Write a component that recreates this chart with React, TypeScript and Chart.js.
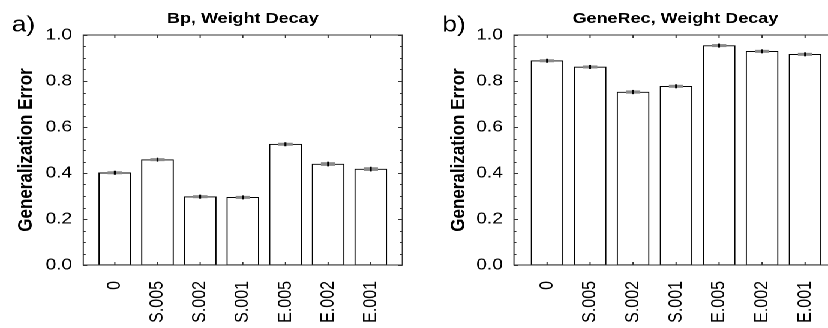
import React, { useEffect, useRef } from "react";
import { Chart, registerables } from "chart.js";

Chart.register(...registerables);

// ---- data ----
const categories = ["0", "S.005", "S.002", "S.001", "E.005", "E.002", "E.001"];
const bpValues = [0.401, 0.458, 0.297, 0.294, 0.525, 0.439, 0.417];
const bpErrors = [0.006, 0.004, 0.004, 0.004, 0.006, 0.008, 0.008];
const geneRecValues = [0.888, 0.861, 0.752, 0.777, 0.954, 0.929, 0.916];
const geneRecErrors = [0.005, 0.004, 0.007, 0.006, 0.003, 0.004, 0.006];
const yMin = 0;
const yMax = 1;
const yStep = 0.2;
const yMinorStep = 0.05;

const FONT = "'Liberation Sans', Arial, Helvetica, sans-serif";
const SX = 1.2; // horizontal stretch of the whole figure

type PanelCfg = {
  title: string;
  letter: string;
  values: number[];
  errors: number[];
  left: number;
  width: number;
  yAxisWidth: number;
  padRight: number;
  xMin: number;
  xMax: number;
  yTitlePad: number;
  letterX: number;
};

const panels: PanelCfg[] = [
  {
    title: "Bp, Weight Decay",
    letter: "a)",
    values: bpValues,
    errors: bpErrors,
    left: 0,
    width: 345,
    yAxisWidth: 69.4,
    padRight: 8.3,
    xMin: -0.74,
    xMax: 6.74,
    yTitlePad: 11.5,
    letterX: 9.75,
  },
  {
    title: "GeneRec, Weight Decay",
    letter: "b)",
    values: geneRecValues,
    errors: geneRecErrors,
    left: 345,
    width: 370,
    yAxisWidth: 83.3,
    padRight: 17.6,
    xMin: -0.77,
    xMax: 6.74,
    yTitlePad: 27,
    letterX: 23.6,
  },
];

function makePlugin(cfg: PanelCfg) {
  return {
    id: "decor",
    afterDatasetsDraw(chart: any) {
      const ctx = chart.ctx as CanvasRenderingContext2D;
      const area = chart.chartArea;
      const xs = chart.scales.x;
      const ys = chart.scales.y;
      ctx.save();
      // error bars
      cfg.values.forEach((v, i) => {
        const e = cfg.errors[i];
        const x = xs.getPixelForValue(i);
        let yt = ys.getPixelForValue(v + e);
        let yb = ys.getPixelForValue(v - e);
        if (yb - yt < 3) {
          const m = (yt + yb) / 2;
          yt = m - 1.5;
          yb = m + 1.5;
        }
        ctx.fillStyle = "#8a8a8a";
        ctx.fillRect(x - 6, yt, 12, yb - yt);
        ctx.fillStyle = "#000";
        ctx.fillRect(x - 0.8, yt - 0.5, 1.6, yb - yt + 1);
      });
      // frame
      ctx.strokeStyle = "#333";
      ctx.lineWidth = 1;
      ctx.strokeRect(area.left, area.top, area.right - area.left, area.bottom - area.top);
      // y minor / major ticks on left and right
      ctx.beginPath();
      const n = Math.round((yMax - yMin) / yMinorStep);
      for (let k = 0; k <= n; k++) {
        const val = yMin + k * yMinorStep;
        const y = Math.round(ys.getPixelForValue(val)) + 0.5;
        const major = k % Math.round(yStep / yMinorStep) === 0;
        const len = major ? 3.3 : 2;
        ctx.moveTo(area.left, y);
        ctx.lineTo(area.left + len, y);
        ctx.moveTo(area.right, y);
        ctx.lineTo(area.right - len, y);
      }
      // x ticks top and bottom
      categories.forEach((_, i) => {
        const x = xs.getPixelForValue(i);
        ctx.moveTo(x, area.top);
        ctx.lineTo(x, area.top + 3);
        ctx.moveTo(x, area.bottom);
        ctx.lineTo(x, area.bottom - 3);
      });
      ctx.stroke();
      // title
      ctx.fillStyle = "#000";
      ctx.font = `bold 15px ${FONT}`;
      ctx.textAlign = "center";
      ctx.textBaseline = "alphabetic";
      ctx.fillText(cfg.title, (area.left + area.right) / 2, 23);
      // panel letter
      ctx.font = `22px ${FONT}`;
      ctx.textAlign = "left";
      ctx.fillText(cfg.letter, cfg.letterX, 31.7);
      ctx.restore();
    },
  };
}

function Panel({ cfg }: { cfg: PanelCfg }) {
  const ref = useRef<HTMLCanvasElement>(null);
  useEffect(() => {
    const chart = new Chart(ref.current as HTMLCanvasElement, {
      type: "bar",
      data: {
        datasets: [
          {
            data: cfg.values.map((v, i) => ({ x: i, y: v })),
            backgroundColor: "#ffffff",
            borderColor: "#000000",
            borderWidth: 1,
            borderSkipped: false,
            barThickness: 32 / SX,
          } as any,
        ],
      },
      options: {
        animation: false,
        responsive: false,
        devicePixelRatio: 2,
        layout: { padding: { top: 35, right: cfg.padRight, left: 0, bottom: 0 } },
        plugins: { legend: { display: false }, tooltip: { enabled: false } },
        scales: {
          x: {
            type: "linear",
            min: cfg.xMin,
            max: cfg.xMax,
            offset: false,
            grid: { display: false, drawTicks: false },
            border: { display: false },
            afterBuildTicks: (axis: any) => {
              axis.ticks = categories.map((_, i) => ({ value: i }));
            },
            afterFit: (s: any) => {
              s.height = 63;
            },
            ticks: {
              autoSkip: false,
              minRotation: 90,
              maxRotation: 90,
              padding: 16,
              color: "#000",
              font: { family: FONT, size: 16 },
              callback: (v: any) => categories[Math.round(Number(v))] ?? "",
            },
          },
          y: {
            min: yMin,
            max: yMax,
            grid: { display: false, drawTicks: false },
            border: { display: false },
            afterFit: (s: any) => {
              s.width = cfg.yAxisWidth;
            },
            ticks: {
              stepSize: yStep,
              padding: 9.2,
              color: "#000",
              font: { family: FONT, size: 16 },
              callback: (v: any) => Number(v).toFixed(1),
            },
            title: {
              display: true,
              text: "Generalization Error",
              color: "#000",
              font: { family: FONT, size: 17, weight: "bold" },
              padding: { top: cfg.yTitlePad, bottom: 0 },
            },
          },
        },
      } as any,
      plugins: [makePlugin(cfg)],
    });
    return () => chart.destroy();
  }, []);
  return (
    <div
      style={{
        position: "absolute",
        left: cfg.left,
        top: 0,
        width: cfg.width,
        height: 328,
      }}
    >
      <canvas ref={ref} width={cfg.width} height={328} style={{ display: "block" }} />
    </div>
  );
}

export default function App() {
  return (
    <div
      style={{
        position: "fixed",
        left: 0,
        top: 0,
        width: 828,
        height: 328,
        overflow: "hidden",
        background: "#fff",
      }}
    >
      <div
        style={{
          position: "absolute",
          left: 0,
          top: 0,
          width: 828 / SX,
          height: 328,
          transform: `scaleX(${SX})`,
          transformOrigin: "0 0",
        }}
      >
        {panels.map((p, i) => (
          <Panel key={i} cfg={p} />
        ))}
      </div>
    </div>
  );
}
